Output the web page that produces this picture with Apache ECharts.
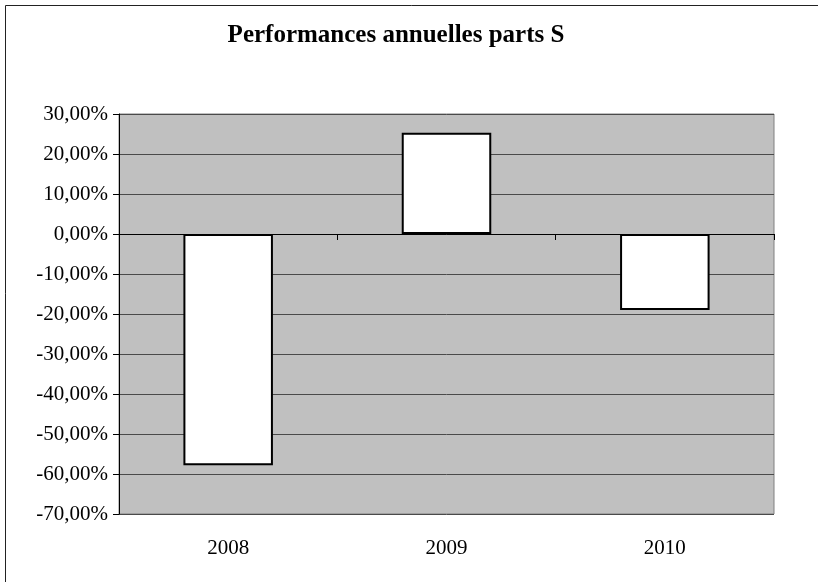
<!DOCTYPE html>
<html>
<head>
<meta charset="utf-8">
<script src="https://cdn.jsdelivr.net/npm/echarts@6/dist/echarts.min.js"></script>
<style>
html,body{margin:0;padding:0;background:#fff;}
#c{width:818px;height:582px;}
</style>
</head>
<body>
<div id="c"></div>
<script>
var titleText = 'Performances annuelles parts S';
var categories = ['2008', '2009', '2010'];
var values = [-57.8, 25.3, -19.0];
var yMin = -70, yMax = 30, yStep = 10;

var chart = echarts.init(document.getElementById('c'));
var serif = '"Liberation Serif","Times New Roman",serif';
function fmt(v){ return v.toFixed(2).replace('.', ',') + '%'; }

chart.setOption({
  animation: false,
  backgroundColor: '#fff',
  title: {
    text: titleText, left: 391, top: 18, textAlign: 'center',
    textStyle: {fontFamily: serif, fontSize: 25, fontWeight: 'bold', color: '#000'}
  },
  graphic: [
    {type: 'line', shape: {x1: 5.5, y1: 5.5, x2: 818, y2: 5.5}, style: {stroke: '#222', lineWidth: 1}},
    {type: 'line', shape: {x1: 5.5, y1: 5.5, x2: 5.5, y2: 582}, style: {stroke: '#222', lineWidth: 1}}
  ],
  grid: {
    left: 119, right: 44, top: 114, bottom: 68,
    show: true, backgroundColor: '#c0c0c0', borderColor: '#808080', borderWidth: 1
  },
  xAxis: [
    {
      type: 'category', data: categories,
      axisLine: {onZero: true, lineStyle: {color: '#000', width: 1}},
      axisTick: {show: true, length: 6, lineStyle: {color: '#000'}},
      axisLabel: {show: false},
      splitLine: {show: false}
    },
    {
      type: 'category', data: categories, position: 'bottom',
      axisLine: {show: false, onZero: false},
      axisTick: {show: false},
      axisLabel: {margin: 24, fontFamily: serif, fontSize: 21, color: '#000'}
    }
  ],
  yAxis: {
    type: 'value', min: yMin, max: yMax, interval: yStep,
    axisLine: {show: true, lineStyle: {color: '#000', width: 1}},
    axisTick: {show: true, length: 6, lineStyle: {color: '#000'}},
    axisLabel: {margin: 11, fontFamily: serif, fontSize: 21, color: '#000', formatter: fmt},
    splitLine: {show: true, lineStyle: {color: '#4a4a4a', width: 1}}
  },
  series: [{
    type: 'bar', xAxisIndex: 0, data: values, barWidth: '41%',
    itemStyle: {color: '#fff', borderColor: '#000', borderWidth: 2}
  }]
});
</script>
</body>
</html>
